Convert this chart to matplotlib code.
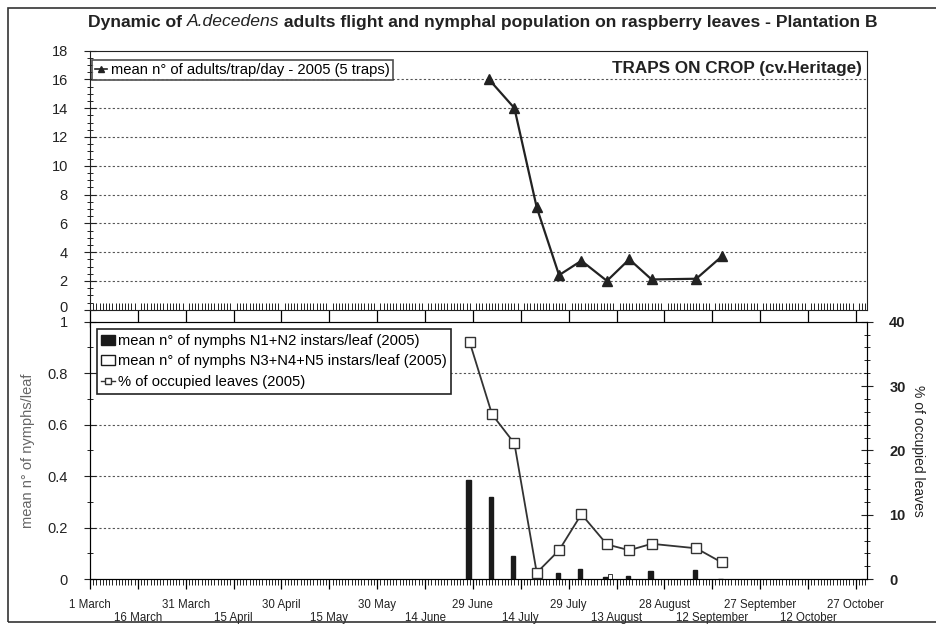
import datetime as dt
import matplotlib
matplotlib.use("Agg")
import matplotlib.pyplot as plt
import matplotlib.dates as mdates
import matplotlib.transforms as mtransforms
from matplotlib.ticker import MultipleLocator
from matplotlib.lines import Line2D
from matplotlib.patches import Patch, Rectangle

plt.rcParams['font.family'] = ['Liberation Sans', 'DejaVu Sans']

# trap catches (top panel)
trap_dates = ["2005-07-04", "2005-07-12", "2005-07-19", "2005-07-26", "2005-08-02",
              "2005-08-10", "2005-08-17", "2005-08-24", "2005-09-07", "2005-09-15"]
adults = [16.0, 14.0, 7.1, 2.4, 3.4, 2.0, 3.5, 2.1, 2.15, 3.7]

# leaf samples (bottom panel)
leaf_dates = ["2005-06-28", "2005-07-05", "2005-07-12", "2005-07-19", "2005-07-26",
              "2005-08-02", "2005-08-10", "2005-08-17", "2005-08-24", "2005-09-07",
              "2005-09-15"]
n1_n2 = [0.385, 0.32, 0.09, 0.0, 0.025, 0.038, 0.008, 0.012, 0.031, 0.034, 0.0]
n3_n5 = [0.0, 0.0, 0.0, 0.0, 0.0, 0.0, 0.02, 0.0, 0.0, 0.0, 0.0]
occupied = [36.8, 25.6, 21.1, 1.0, 4.5, 10.1, 5.4, 4.5, 5.5, 4.8, 2.6]

tick_labels = ["1 March", "16 March", "31 March", "15 April", "30 April", "15 May",
               "30 May", "14 June", "29 June", "14 July", "29 July", "13 August",
               "28 August", "12 September", "27 September", "12 October", "27 October"]
adult_ticks = [0, 2, 4, 6, 8, 10, 12, 14, 16, 18]
nymph_ticks = [0, 0.2, 0.4, 0.6, 0.8, 1]
nymph_tick_labels = ["0", "0.2", "0.4", "0.6", "0.8", "1"]

to_dt = lambda s: dt.datetime.strptime(s, "%Y-%m-%d")
trap_x = [to_dt(d) for d in trap_dates]
leaf_x = [to_dt(d) for d in leaf_dates]
start = dt.datetime(2005, 3, 1)
end = dt.datetime(2005, 10, 30, 12)
ticks = [start + dt.timedelta(days=15 * i) for i in range(len(tick_labels))]

W, H = 937, 625
fig = plt.figure(figsize=(W / 100, H / 100), dpi=100)

def frac(x0, y0, x1, y1):
    return [x0 / W, 1 - y1 / H, (x1 - x0) / W, (y1 - y0) / H]

# outer frame
fig.patches.append(Rectangle((8 / W, 3 / H), 1.2, 1 - 11 / H, transform=fig.transFigure,
                             fill=False, lw=1.2, ec='#333333'))

# title with the species name in italics
title_parts = [("Dynamic of ", 'normal', 'bold'), ("A.decedens", 'italic', 'normal'),
               (" adults flight and nymphal population on raspberry leaves - Plantation B",
                'normal', 'bold')]
x_cur = 88 / W
renderer = fig.canvas.get_renderer()
for txt, style, weight in title_parts:
    t = fig.text(x_cur, 1 - 22 / H, txt, fontsize=12.6, fontstyle=style,
                 fontweight=weight, va='center', ha='left', color='#222222')
    bb = t.get_window_extent(renderer=renderer)
    x_cur += bb.width / W

grid_kw = dict(color='#555555', linestyle=(0, (2, 2)), linewidth=0.8)

# ---- top panel: adults on traps ----
ax1 = fig.add_axes(frac(90, 50.5, 867, 309.7))
ax1.plot(trap_x, adults, color='#222222', lw=1.6, marker='^', ms=7,
         mfc='#222222', mec='#222222')
ax1.set_xlim(start, end)
ax1.set_ylim(0, 18)
ax1.set_yticks(adult_ticks)
ax1.yaxis.set_minor_locator(MultipleLocator(0.5))
for v in adult_ticks[1:-1]:
    ax1.axhline(v, zorder=0, **grid_kw)
ax1.set_xticks(ticks)
ax1.set_xticklabels([])
ax1.xaxis.set_minor_locator(mdates.DayLocator())
ax1.tick_params(axis='x', which='major', direction='out', length=12, width=0.9)
ax1.tick_params(axis='x', which='minor', direction='in', length=5, width=0.6)
ax1.tick_params(axis='y', which='major', direction='inout', length=8, labelsize=10.5,
                colors='#222222', pad=12)
ax1.tick_params(axis='y', which='minor', direction='inout', length=4)
for s in ax1.spines.values():
    s.set_color('#222222')
ax1.text(0.993, 0.93, "TRAPS ON CROP (cv.Heritage)", transform=ax1.transAxes,
         ha='right', va='center', fontsize=12.3, fontweight='bold', color='#222222')
leg1 = ax1.legend([Line2D([], [], color='#222222', marker='^', ms=5, lw=1.2)],
                  ["mean n° of adults/trap/day - 2005 (5 traps)"],
                  loc='upper left', bbox_to_anchor=(0.003, 0.963), fontsize=10.6,
                  frameon=True, fancybox=False, edgecolor='#222222', handlelength=0.8,
                  handletextpad=0.3, borderpad=0.2, borderaxespad=0)
leg1.get_frame().set_linewidth(1.2)

# ---- bottom panel: nymphs on leaves ----
ax2 = fig.add_axes(frac(90, 321.7, 867, 579.2))
bar_w = 1.4
ax2.bar(mdates.date2num(leaf_x) - 0.4, n1_n2, width=bar_w, color='#1a1a1a',
        edgecolor='#1a1a1a', zorder=3)
ax2.bar(mdates.date2num(leaf_x) + 1.0, n3_n5, width=bar_w, color='white',
        edgecolor='#1a1a1a', lw=0.6, zorder=3)
ax2.set_xlim(start, end)
ax2.set_ylim(0, 1)
ax2.yaxis.set_minor_locator(MultipleLocator(0.1))
ax2.set_yticks(nymph_ticks)
ax2.set_yticklabels(nymph_tick_labels)
for v in nymph_ticks[1:-1]:
    ax2.axhline(v, zorder=0, **grid_kw)

# the "0" of the top panel and the "1" below it sit very close: nudge them apart
lab_top0 = ax1.get_yticklabels()[0]
lab_top0.set_transform(lab_top0.get_transform() +
                       mtransforms.ScaledTranslation(0, 2 / 72, fig.dpi_scale_trans))
lab_bot1 = ax2.get_yticklabels()[-1]
lab_bot1.set_transform(lab_bot1.get_transform() +
                       mtransforms.ScaledTranslation(0, -2.5 / 72, fig.dpi_scale_trans))

# date labels on two staggered rows
ax2.set_xticks(ticks)
ax2.set_xticklabels([lab if i % 2 == 0 else "" for i, lab in enumerate(tick_labels)],
                    fontsize=8.3, color='#222222')
trans = mtransforms.blended_transform_factory(ax2.transData, ax2.transAxes)
for i, (tk, lab) in enumerate(zip(ticks, tick_labels)):
    if i % 2 == 1:
        ax2.text(tk, -0.151, lab, transform=trans, ha='center', va='center',
                 fontsize=8.3, color='#222222')
ax2.xaxis.set_minor_locator(mdates.DayLocator())
ax2.tick_params(axis='x', which='major', direction='out', length=7, width=0.9, pad=7)
ax2.tick_params(axis='x', which='minor', direction='out', length=4, width=0.6)
ax2.tick_params(axis='y', which='major', direction='inout', length=8, labelsize=10.5,
                colors='#222222', pad=12)
ax2.tick_params(axis='y', which='minor', direction='inout', length=4)
ax2.set_ylabel("mean n° of nymphs/leaf", fontsize=10.5, color='#666666', labelpad=9)
for s in ax2.spines.values():
    s.set_color('#222222')

ax3 = ax2.twinx()
ax3.plot(leaf_x, occupied, color='#333333', lw=1.3, marker='s', ms=7, mfc='white',
         mec='#333333', mew=1.0, zorder=4)
ax3.set_ylim(0, 40)
ax3.yaxis.set_major_locator(MultipleLocator(10))
ax3.yaxis.set_minor_locator(MultipleLocator(2))
ax3.tick_params(axis='y', which='major', direction='inout', length=8, labelsize=10.5,
                pad=12, colors='#222222')
ax3.tick_params(axis='y', which='minor', direction='inout', length=4)
for lab in ax3.get_yticklabels():
    lab.set_fontweight('bold')
ax3.set_ylabel("% of occupied leaves", fontsize=10, rotation=270, labelpad=14,
               color='#222222')
ax3.set_xlim(start, end)

handles = [Patch(facecolor='#1a1a1a', edgecolor='#1a1a1a'),
           Patch(facecolor='white', edgecolor='#1a1a1a'),
           Line2D([], [], color='#333333', marker='s', ms=5, mfc='white', lw=1)]
labels = ["mean n° of nymphs N1+N2 instars/leaf (2005)",
          "mean n° of nymphs N3+N4+N5 instars/leaf (2005)",
          "% of occupied leaves (2005)"]
leg2 = ax3.legend(handles, labels, loc='upper left', bbox_to_anchor=(0.009, 0.97),
                  fontsize=10.6, frameon=True, fancybox=False, edgecolor='#222222',
                  handlelength=0.9, handletextpad=0.2, borderpad=0.3, labelspacing=0.45,
                  borderaxespad=0, framealpha=1)
leg2.get_frame().set_linewidth(1.2)

fig.savefig("out.png", dpi=100)
